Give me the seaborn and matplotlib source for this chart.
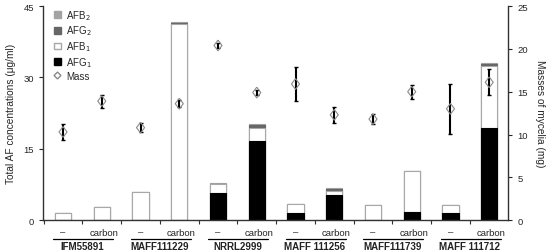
import numpy as np
import pandas as pd
import matplotlib.pyplot as plt
import matplotlib.transforms as mtransforms
from matplotlib.patches import Patch
from matplotlib.lines import Line2D
import seaborn as sns

# strains and treatments (two bars per strain)
strains = ["IFM55891", "MAFF111229", "NRRL2999", "MAFF 111256", "MAFF111739", "MAFF 111712"]
treatments = ["\u2013", "carbon"]

# aflatoxin concentrations (ug/ml), one value per bar
afg1 = [0.0, 0.0, 0.0, 0.0, 5.8, 16.7, 1.6, 5.2, 0.0, 1.75, 1.5, 19.4]
afb1 = [1.4, 2.8, 6.0, 41.2, 1.7, 2.6, 1.8, 1.0, 3.2, 8.6, 1.7, 13.0]
afg2 = [0.0, 0.0, 0.0, 0.3, 0.15, 0.7, 0.0, 0.3, 0.0, 0.0, 0.0, 0.35]
afb2 = [0.0, 0.0, 0.0, 0.1, 0.05, 0.3, 0.0, 0.2, 0.0, 0.0, 0.0, 0.2]

# mycelia masses (mg) with error
mass = [10.3, 13.9, 10.8, 13.6, 20.4, 14.9, 15.9, 12.3, 11.8, 15.0, 13.0, 16.1]
mass_err = [0.9, 0.75, 0.5, 0.4, 0.3, 0.3, 2.0, 0.9, 0.55, 0.8, 2.9, 1.5]

bar_ids = [f"{s} {t}" for s in strains for t in treatments]
df = pd.DataFrame({"bar": bar_ids, "AFG1": afg1, "AFB1": afb1, "AFG2": afg2, "AFB2": afb2})
df["c_afb1"] = df["AFG1"] + df["AFB1"]
df["c_afg2"] = df["c_afb1"] + df["AFG2"]
df["c_afb2"] = df["c_afg2"] + df["AFB2"]

sns.set_style("ticks")
plt.rcParams["font.family"] = ["Liberation Sans", "DejaVu Sans"]
plt.rcParams["font.size"] = 7

fig = plt.figure(figsize=(5.5, 2.53), dpi=100)
ax = fig.add_axes([0.078, 0.126, 0.846, 0.846])

c_afb2 = "#a3a3a3"
c_afg2 = "#666666"
layers = [("c_afb2", c_afb2, c_afb2), ("c_afg2", c_afg2, c_afg2),
          ("c_afb1", "white", "#a8a8a8"), ("AFG1", "black", "black")]
for col, fc, ec in layers:
    sns.barplot(data=df, x="bar", y=col, order=bar_ids, color=fc, edgecolor=ec,
                linewidth=0.8, width=0.42, saturation=1, ax=ax, zorder=2)

ax.set_xlim(-0.52, 11.49)
ax.set_ylim(0, 45)
ax.set_yticks([0, 15, 30, 45])
ax.set_ylabel("Total AF concentrations (\u03bcg/ml)", fontsize=7.3, labelpad=5)
ax.set_xlabel("")
ax.set_xticks(np.arange(-0.5, 12, 1))
ax.set_xticklabels([])
ax.tick_params(axis="x", length=3, width=0.8, colors="#333333")
ax.tick_params(axis="y", length=3, width=0.8, labelsize=6.8)
for s in ["left", "bottom"]:
    ax.spines[s].set_linewidth(1.0)
    ax.spines[s].set_color("#333333")
ax.spines["top"].set_visible(False)
ax.spines["right"].set_visible(False)

# mass on the right axis
diamond = [(0, 1), (0.75, 0), (0, -1), (-0.75, 0), (0, 1)]
ax2 = ax.twinx()
ax2.errorbar(np.arange(12), mass, yerr=mass_err, fmt="none", ecolor="black",
             elinewidth=1.5, capsize=1.5, capthick=1, zorder=3)
sns.scatterplot(x=np.arange(12), y=mass, marker=diamond, s=60, facecolor="none",
                edgecolor="#8a8a8a", linewidth=0.8, ax=ax2, zorder=4)
ax2.set_ylim(0, 25)
ax2.set_yticks([0, 5, 10, 15, 20, 25])
ax2.set_xlim(-0.52, 11.49)
ax2.set_ylabel("Masses of mycelia (mg)", rotation=270, labelpad=12, fontsize=7.3)
ax2.tick_params(axis="y", length=3, width=0.8, labelsize=6.8)
ax2.spines["top"].set_visible(False)
ax2.spines["left"].set_visible(False)
ax2.spines["bottom"].set_visible(False)
ax2.spines["right"].set_linewidth(1.0)
ax2.spines["right"].set_color("#333333")

# treatment labels, underlines and strain names
trans = mtransforms.blended_transform_factory(ax.transData, ax.transAxes)
for i, s in enumerate(strains):
    for j, t in enumerate(treatments):
        ax.text(2 * i + j + 0.05 * j, -0.056, t, transform=trans, ha="center", va="center",
                fontsize=6.8, color="#222222")
    ax.plot([2 * i - 0.25, 2 * i + 1.3], [-0.086, -0.086], transform=trans,
            color="black", lw=0.9, clip_on=False)
    ax.text(2 * i + 0.5, -0.12, s, transform=trans, ha="center", va="center",
            fontsize=7, fontweight="bold", color="#222222")

handles = [Patch(facecolor=c_afb2, edgecolor=c_afb2),
           Patch(facecolor=c_afg2, edgecolor=c_afg2),
           Patch(facecolor="white", edgecolor="#a8a8a8"),
           Patch(facecolor="black", edgecolor="black"),
           Line2D([], [], marker="D", ls="none", markerfacecolor="white",
                  markeredgecolor="#8a8a8a", markersize=3.5)]
labels = ["AFB$_2$", "AFG$_2$", "AFB$_1$", "AFG$_1$", "Mass"]
ax2.legend(handles, labels, loc="upper left", bbox_to_anchor=(0.015, 1.01),
           frameon=False, fontsize=7, handlelength=0.7, handleheight=0.7,
           handletextpad=0.6, labelspacing=0.2, borderaxespad=0)

plt.savefig("out.png", dpi=100)
